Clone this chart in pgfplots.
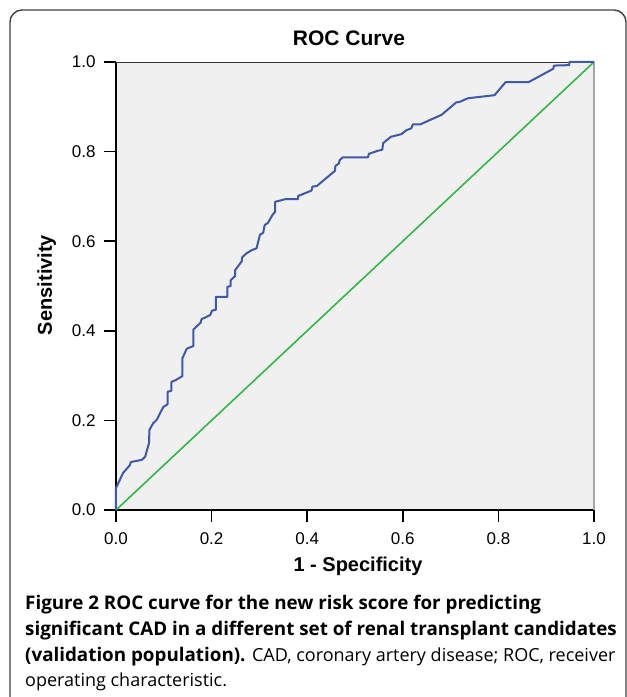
\documentclass[border=0pt]{standalone}
\usepackage{fontspec}
\setmainfont{Liberation Sans}
\newfontfamily\capfont{Open Sans}
\usepackage{pgfplots}
\pgfplotsset{compat=1.18}
\definecolor{rocblue}{RGB}{62,88,170}
\definecolor{refgreen}{RGB}{52,182,72}
\definecolor{panelgray}{RGB}{240,240,240}
\begin{document}
\begin{tikzpicture}
\useasboundingbox (-116pt,-187pt) rectangle (511pt,510pt);
% frame around figure and caption
\draw[line width=1.4pt, black!75, rounded corners=12pt]
  (-106pt,-230pt) -- (-106pt,500pt) -- (510pt,500pt) -- (510pt,-230pt);
\begin{axis}[
  at={(0,0)}, anchor=south west,
  scale only axis, width=478pt, height=448pt,
  xmin=0, xmax=1, ymin=0, ymax=1,
  axis x line*=bottom, axis y line*=left,
  axis line style={line width=1.6pt, black, -},
  axis background/.style={fill=panelgray},
  xtick={0,0.2,0.4,0.6,0.8,1}, ytick={0,0.2,0.4,0.6,0.8,1},
  xticklabels={0.0,0.2,0.4,0.6,0.8,1.0},
  yticklabels={0.0,0.2,0.4,0.6,0.8,1.0},
  tick align=outside, major tick length=12pt,
  tick style={line width=1.6pt, black},
  every tick label/.append style={font=\fontsize{17}{17}\selectfont},
  xticklabel style={yshift=-7pt},
  yticklabel style={xshift=-5pt},
  clip=false,
]
\draw[black!80, line width=0.8pt] (rel axis cs:0,1) -- (rel axis cs:1,1);
\draw[black!35, line width=1.4pt] (rel axis cs:1,1) -- (rel axis cs:1,0);
\addplot[refgreen, line width=1.6pt] coordinates {(0,0) (1,1)};
\addplot[rocblue, line width=2pt, line join=round] coordinates {
(0,0) (0,0.049) (0.015,0.083) (0.029,0.100) (0.031,0.107) (0.054,0.112)
(0.061,0.119) (0.069,0.149) (0.070,0.179) (0.078,0.194) (0.085,0.201)
(0.099,0.230) (0.108,0.236) (0.108,0.264) (0.116,0.266) (0.116,0.286)
(0.125,0.290) (0.139,0.299) (0.139,0.339) (0.148,0.360) (0.162,0.366)
(0.162,0.403) (0.177,0.418) (0.179,0.426) (0.197,0.435) (0.201,0.445)
(0.209,0.447) (0.209,0.476) (0.233,0.476) (0.233,0.498) (0.240,0.500)
(0.240,0.513) (0.249,0.522) (0.249,0.535) (0.263,0.555) (0.264,0.564)
(0.273,0.573) (0.284,0.580) (0.294,0.584) (0.301,0.614) (0.308,0.619)
(0.311,0.636) (0.318,0.641) (0.327,0.658) (0.333,0.666) (0.333,0.688)
(0.355,0.694) (0.381,0.694) (0.381,0.701) (0.409,0.713) (0.411,0.722)
(0.420,0.723) (0.458,0.757) (0.459,0.768) (0.466,0.773) (0.468,0.781)
(0.474,0.787) (0.527,0.787) (0.529,0.795) (0.548,0.802) (0.557,0.804)
(0.559,0.819) (0.575,0.833) (0.597,0.839) (0.608,0.848) (0.618,0.852)
(0.621,0.861) (0.637,0.861) (0.681,0.882) (0.712,0.910) (0.719,0.911)
(0.736,0.919) (0.792,0.926) (0.815,0.955) (0.863,0.955) (0.915,0.985)
(0.916,0.992) (0.948,0.993) (0.949,1.0) (1,1)
};
\end{axis}
% titles and labels
\node[font=\fontsize{21}{21}\selectfont\bfseries, anchor=base] at (233pt,464pt) {ROC Curve};
\node[font=\fontsize{20}{20}\selectfont\bfseries, anchor=base] at (242pt,-61pt) {1 - Specificity};
\node[font=\fontsize{20}{20}\selectfont\bfseries, rotate=90, anchor=base] at (-64pt,225pt) {Sensitivity};
% caption
\begin{scope}[every node/.style={anchor=base west, inner sep=0pt, font=\capfont\fontsize{18.8}{18.8}\selectfont}]
\node at (-91pt,-99.5pt) {\bfseries Figure 2 ROC curve for the new risk score for predicting};
\node at (-91pt,-125.3pt) {\bfseries significant CAD in a different set of renal transplant candidates};
\node at (-91pt,-151pt) {{\bfseries (validation population).} {\fontsize{18}{18}\selectfont CAD, coronary artery disease; ROC, receiver}};
\node at (-91pt,-176.8pt) {\fontsize{18}{18}\selectfont operating characteristic.};
\end{scope}
\end{tikzpicture}
\end{document}
